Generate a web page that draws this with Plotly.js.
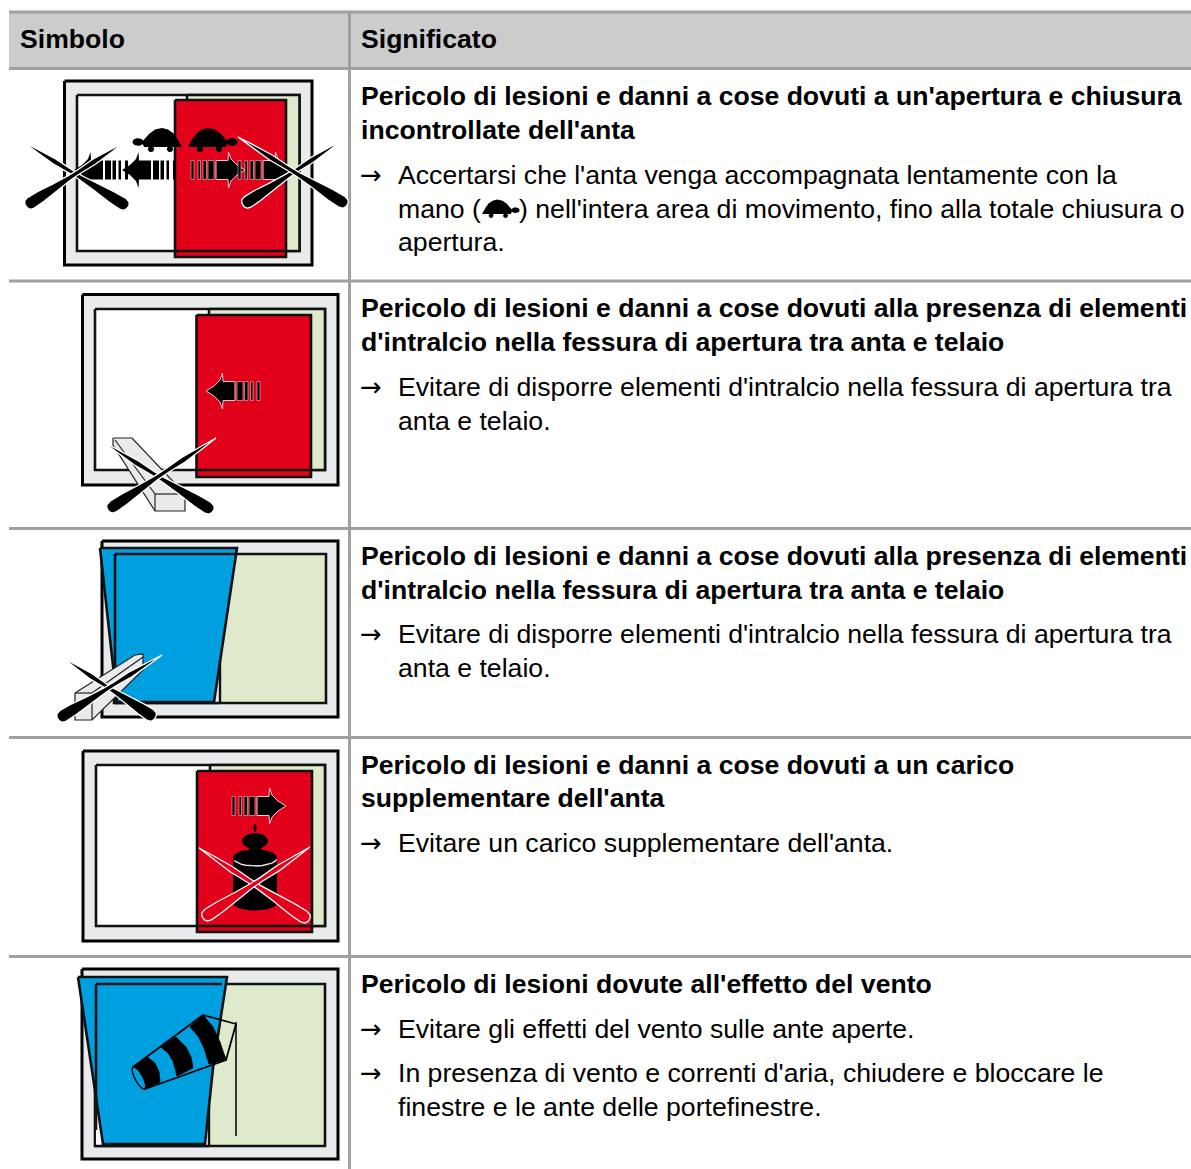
<!DOCTYPE html>
<html><head><meta charset="utf-8">
<script src="https://cdn.plot.ly/plotly-3.0.1.min.js"></script>
<style>html,body{margin:0;padding:0;background:#fff}#c{width:1191px;height:1169px}</style>
</head><body><div id="c"></div>
<script>
// ---------- text content ----------
const headers = [["Simbolo", 20, 39], ["Significato", 360.5, 39]];
const boldLines = [
 ["Pericolo di lesioni e danni a cose dovuti a un'apertura e chiusura", 96],
 ["incontrollate dell'anta", 130],
 ["Pericolo di lesioni e danni a cose dovuti alla presenza di elementi", 308],
 ["d'intralcio nella fessura di apertura tra anta e telaio", 342],
 ["Pericolo di lesioni e danni a cose dovuti alla presenza di elementi", 556],
 ["d'intralcio nella fessura di apertura tra anta e telaio", 590],
 ["Pericolo di lesioni e danni a cose dovuti a un carico", 765],
 ["supplementare dell'anta", 798],
 ["Pericolo di lesioni dovute all'effetto del vento", 984]
];
const bodyLines = [
 ["Accertarsi che l'anta venga accompagnata lentamente con la", 398, 175, true],
 ["mano (", 398, 209, false],
 [") nell'intera area di movimento, fino alla totale chiusura o", 518.5, 209, false],
 ["apertura.", 398, 242, false],
 ["Evitare di disporre elementi d'intralcio nella fessura di apertura tra", 398, 387, true],
 ["anta e telaio.", 398, 421, false],
 ["Evitare di disporre elementi d'intralcio nella fessura di apertura tra", 398, 634, true],
 ["anta e telaio.", 398, 668, false],
 ["Evitare un carico supplementare dell'anta.", 398, 843, true],
 ["Evitare gli effetti del vento sulle ante aperte.", 398, 1029, true],
 ["In presenza di vento e correnti d'aria, chiudere e bloccare le", 398, 1073, true],
 ["finestre e le ante delle portefinestre.", 398, 1107, false]
];
// ---------- table rules ----------
const ruleY = [12, 68.5, 281, 528.5, 737.5, 956.5];
const ruleX = 349.5;
// ---------- colours ----------
const GREY="#e9eaec", RED="#e2001a", BLUE="#009fe0", GREEN="#dfe9cc", RULE="#a0a0a0", HEAD="#cccccc";
// ---------- sliding symbols: outer, inner, green left, red sash [x0,y0,x1,y1] ----------
const slideWindows = [
 {outer:[64.5,81,312,265], inner:[77,95,299.5,251], green:187, sash:[175,100,286,257]},
 {outer:[82.5,294.5,338,485], inner:[95,309,325,470], green:209, sash:[196.5,315,311,477]},
 {outer:[83,751,338,941], inner:[96,765,325,926], green:210, sash:[197,771,312,932]}
];
// ---------- arrows: tip x, centre y, direction ----------
const arrows = [[74,170,-1],[122,170,-1],[245,170,1],[292,170,1],[206,391,-1],[286,806,1]];
const arrowStripes = [[31,37],[38.5,42],[44.5,47],[51,54]];
// ---------- knives: tip x, tip y, handle x, handle y, fill, outline ----------
const knives = [
 [23,142,128,207,"#000","#fff"],[123,143,26,206,"#000","#fff"],
 [341,141,243,205,"#000","#fff"],[238,137,347,205,"#000","#fff"],
 [103,442,213,511,"#000","#fff"],[216,438,108,510,"#000","#fff"],
 [63,658,155,718,"#000","#fff"],[162,655,58,719,"#000","#fff"],
 [199,848,309,920,RED,"#fff"],[310,847,203,918,RED,"#fff"]
];
const knifeProfile = [[0,0],[.12,1.3],[.3,2.8],[.45,2.2],[.55,2.4],[.7,3.8],[.85,5.8],[.95,6.2],[.985,5],[1,2]];
// ---------- turtles: x, base y, direction, scale ----------
const turtles = [[182,147,-1,1],[188,147,1,1],[482,214,1,.76]];
// ---------- windsock bands ----------
const sockBands=[
 [[133,1067],[147,1057],[155,1063],[159,1072],[160,1082],[145,1089],[141,1082],[137,1074]],
 [[161,1047],[176,1037],[186,1047],[191,1057],[193,1068],[177,1076],[173,1061],[168,1053]],
 [[190,1027],[203,1015],[213,1027],[220,1042],[226,1060],[209,1064],[204,1048],[198,1036]]
];

const traces=[], annotations=[];
function poly(p,fill,line,w,closed=true){
  const pts=closed?p.concat([p[0]]):p;
  const t={x:pts.map(a=>a[0]),y:pts.map(a=>a[1]),mode:"lines",type:"scatter",hoverinfo:"skip",showlegend:false,
    line:{color:line||"rgba(0,0,0,0)",width:line?(w||1):0}};
  if(fill){t.fill="toself";t.fillcolor=fill;}
  traces.push(t);
}
function rect(r,fill,line,w){poly([[r[0],r[1]],[r[2],r[1]],[r[2],r[3]],[r[0],r[3]]],fill,line,w);}
function seg(a,b,c,w){poly([a,b],null,c,w,false);}
function ell(cx,cy,rx,ry,fill,line,w,from=0,to=360,rot=0){
  const p=[],c=Math.cos(rot*Math.PI/180),s=Math.sin(rot*Math.PI/180);
  for(let a=from;a<=to;a+=15){const r=a*Math.PI/180,u=rx*Math.cos(r),v=ry*Math.sin(r);p.push([cx+u*c-v*s,cy+u*s+v*c]);}
  poly(p,fill,line,w,to-from===360);
}
function arrow(tx,cy,d,halo){
  const X=v=>tx-d*v;
  poly([[X(0),cy],[X(8),cy-5],[X(14),cy-11],[X(16.5),cy-18],[X(17),cy-9.5],[X(29),cy-9.5],[X(29),cy+9.5],[X(17),cy+9.5],[X(16.5),cy+18],[X(14),cy+11],[X(8),cy+5]],"#000",halo,1);
  arrowStripes.forEach(s=>rect([X(s[0]),cy-9.5,X(s[1]),cy+9.5],"#000",halo,.6));
}
function knife(k){
  const [x0,y0,x1,y1,f,l]=k, dx=x1-x0, dy=y1-y0, L=Math.hypot(dx,dy), nx=-dy/L, ny=dx/L;
  const a=knifeProfile.map(q=>[x0+dx*q[0]+nx*q[1],y0+dy*q[0]+ny*q[1]]);
  const b=knifeProfile.slice().reverse().map(q=>[x0+dx*q[0]-nx*q[1],y0+dy*q[0]-ny*q[1]]);
  poly(a.concat(b),f,l,1.3);
}
function turtle(t){
  const [x,y,d,s]=t, P=(u,v)=>[x+d*u*s,y+v*s];
  poly([P(0,0),P(2,-4),P(5,-9),P(9,-14),P(14,-17.5),P(20,-19),P(27,-17.5),P(33,-13),P(37,-8),P(40,-5),P(38,0)],"#000");
  ell(P(44,-5)[0],y-5*s,5.5*s,3.8*s,"#000");
  ell(P(12,2)[0],y+2*s,3.2*s,3.2*s,"#000");
  ell(P(31,2)[0],y+2*s,3.2*s,3.2*s,"#000");
}
function wood(p,inner){
  poly(p,GREY,"#222",1.2);
  inner.forEach(i=>seg(i[0],i[1],"#222",1.2));
}

// ----- table header + rules -----
rect([9,12,1191,68],HEAD);
ruleY.forEach(y=>seg([9,y],[1191,y],RULE,3));
seg([ruleX,12],[ruleX,1169],RULE,3);

// ----- sliding windows -----
slideWindows.forEach(w=>{
  rect(w.outer,GREY,"#000",3);
  rect(w.inner,"#fff","#111",2.6);
  rect([w.green,w.inner[1],w.inner[2],w.inner[3]],GREEN,"#111",2.6);
  rect(w.sash,RED,"#111",2.6);
  seg([w.sash[0],w.inner[3]],[w.sash[2],w.inner[3]],"#111",2.6);
});

// ----- row 3 tilt window -----
rect([102,541,338,717],GREY,"#000",3);
rect([114,554,326,703],GREEN,"#111",2.6);
rect([114,554,220,703],GREY);
seg([114,703],[220,703],"#111",2.6);
poly([[100,548],[237,548],[214,702],[117,702]],BLUE,"#111",2.6);
seg([115,554],[236,554],"#111",2.6); seg([115,554],[115,702],"#111",2.6);
seg([220,703],[220,660],"#111",2.4);

// ----- row 5 tilt window -----
rect([82,969,338,1159],GREY,"#000",3);
rect([95,984,325,1146],GREEN,"#111",2.6);
rect([96,985,209,1145],"#fff");
seg([95,1146],[209,1146],"#111",2.6); seg([209,1146],[209,1106],"#111",2.4);
poly([[78,977],[227,977],[213,1068],[205,1144],[103,1144]],BLUE,"#111",2.6);
seg([96,984],[222,984],"#111",2.6); seg([96,984],[96,1130],"#111",2.6);

// ----- wood blocks -----
wood([[113,438],[132,438],[185,494],[185,511],[155,511],[113,445]],[[[115,440],[155,494]],[[155,494],[185,494]],[[155,494],[155,511]]]);
wood([[75,693],[135,655],[143,654],[143,670],[92,720],[75,720]],[[[75,693],[92,693]],[[92,693],[92,720]],[[92,693],[143,657]]]);

// ----- turtles, arrows -----
turtles.forEach(turtle);
arrows.forEach((a,i)=>arrow(a[0],a[1],a[2],(i>=2)?"#f4c6cb":null));

// ----- weight -----
ell(255,828,1.6,4,"#000");
ell(255,841,13,8,"#000");
rect([249,845,261,855],"#000");
ell(255,858,22,9,"#000");
rect([233,858,277,903],"#000");
ell(255,903,22,7.5,"#000");
ell(255,858,22,8,null,"#e8e8e8",1.4,10,170);

// ----- knives -----
knives.forEach(knife);

// ----- windsock -----
poly([[133,1067],[203,1015],[226,1060],[145,1089]],null,"#000",1.8);
sockBands.forEach(b=>poly(b,"#000","#000",.8));
ell(139,1078,12.5,4,BLUE,"#000",1.4,0,360,62);
seg([203,1015],[236,1024],"#000",1.8);
seg([236,1024],[226,1060],"#000",1.8);
seg([236,1022],[236,1136],"#000",1.5);

// ----- text -----
const FONT="Liberation Sans, Arial, sans-serif";
function text(s,x,y,size,bold,family){
  annotations.push({x:x,y:y,xref:"x",yref:"y",text:bold?"<b>"+s+"</b>":s,showarrow:false,xanchor:"left",yanchor:"middle",
    align:"left",font:{family:family||FONT,size:size,color:"#000"},borderpad:0,borderwidth:0});
}
headers.forEach(h=>text(h[0],h[1],h[2],26.6,true));
boldLines.forEach(l=>text(l[0],360.5,l[1],26.6,true));
bodyLines.forEach(l=>{text(l[0],l[1],l[2],26.65,false); if(l[3]) text("→",360,l[2],26,false,"DejaVu Sans");});

Plotly.newPlot("c",traces,{
  width:1191,height:1169,margin:{l:0,r:0,t:0,b:0},paper_bgcolor:"#fff",plot_bgcolor:"#fff",showlegend:false,
  xaxis:{range:[0,1191],visible:false,fixedrange:true},
  yaxis:{range:[1169,0],visible:false,fixedrange:true},
  annotations:annotations
},{displayModeBar:false,staticPlot:true});
</script></body></html>
